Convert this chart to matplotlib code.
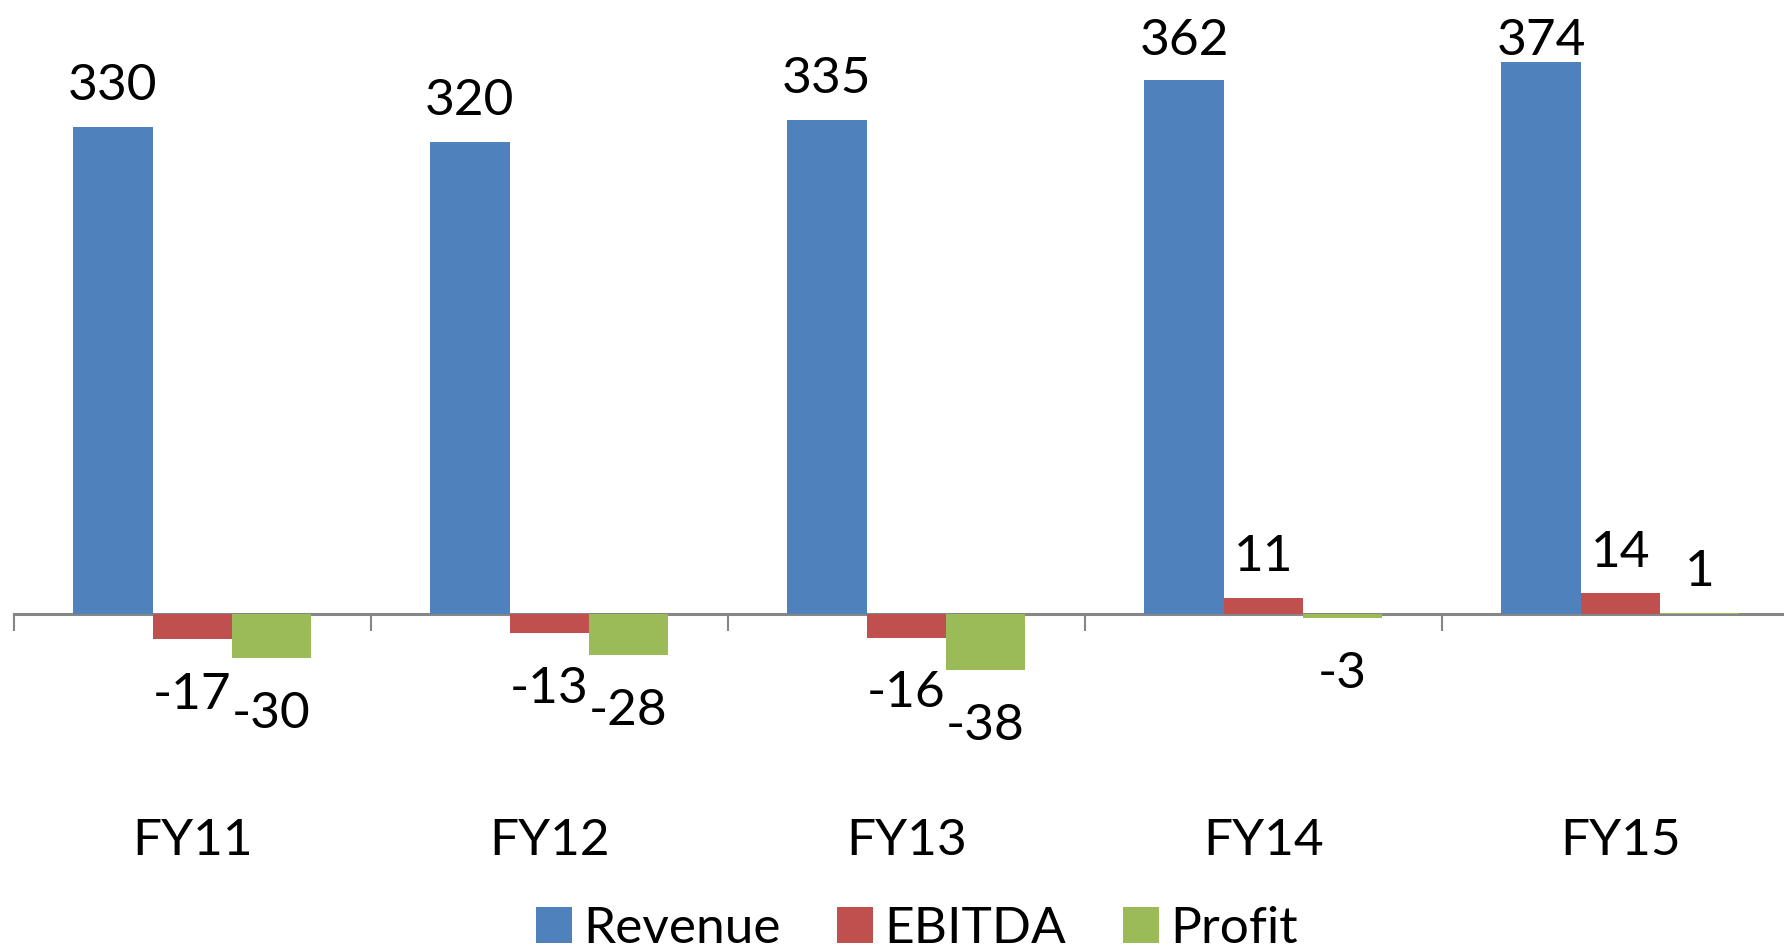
import numpy as np
import matplotlib
matplotlib.use("Agg")
import matplotlib.pyplot as plt
from matplotlib.patches import Patch

# 数据
years = ["FY11", "FY12", "FY13", "FY14", "FY15"]
revenue = [330, 320, 335, 362, 374]
ebitda = [-17, -13, -16, 11, 14]
profit = [-30, -28, -38, -3, 1]

series_names = ["Revenue", "EBITDA", "Profit"]
colors = ["#4F81BD", "#C0504D", "#9BBB59"]
axis_grey = "#868686"

plt.rcParams['font.family'] = ['Lato', 'DejaVu Sans']
FS = 37
DPI = 100

fig = plt.figure(figsize=(17.84, 9.49), dpi=DPI, facecolor="white")
ax = fig.add_axes([0.00768, 0.2752, 1.0007, 0.6999])
ax.set_xlim(-0.5, len(years) - 0.5)
ax.set_ylim(-50, 400)

x = np.arange(len(years))
width = 2 / 9
offsets = [-width, 0, width]

# 标签最高只能到这里（像素，从下往上），太高的标签往下压，跟 Excel 一样
top_baseline_px = 949 - 55

for vals, off, c in zip([revenue, ebitda, profit], offsets, colors):
    ax.bar(x + off, vals, width=width, color=c, linewidth=0)
    for xi, v in zip(x + off, vals):
        # 正数标签在上面，负数标签在下面
        dy = 19.2 if v >= 0 else -50
        bar_end_px = ax.transData.transform((xi, v))[1]
        base_px = bar_end_px + dy * DPI / 72
        if base_px > top_baseline_px:
            dy = (top_baseline_px - bar_end_px) * 72 / DPI
        ax.annotate(str(v), (xi, v), xytext=(0, dy), textcoords="offset points",
                    ha="center", va="baseline", fontsize=FS, color="black")

for xi, name in zip(x, years):
    ax.annotate(name, (xi, 0), xytext=(0, -173.7), textcoords="offset points",
                ha="center", va="baseline", fontsize=FS, color="black",
                annotation_clip=False)

for s in ["top", "right", "left"]:
    ax.spines[s].set_visible(False)
ax.spines["bottom"].set_position(("data", 0))
ax.spines["bottom"].set_color(axis_grey)
ax.spines["bottom"].set_linewidth(2.2)
ax.spines["bottom"].set_zorder(0.5)

ax.set_xticks(np.arange(-0.5, len(years), 1.0))
ax.set_xticklabels([])
ax.tick_params(axis="x", direction="out", length=12.2, width=1.5, color=axis_grey)
ax.set_yticks([])
ax.patch.set_alpha(0)

handles = [Patch(facecolor=c, edgecolor="none") for c in colors]
fig.legend(handles, series_names, loc="center", bbox_to_anchor=(0.514, 0.0215),
           ncol=3, frameon=False, fontsize=FS, handlelength=0.7, handleheight=0.7,
           handletextpad=0.22, columnspacing=1.1, borderpad=0, borderaxespad=0)

fig.savefig("out.png", dpi=DPI, facecolor="white")
